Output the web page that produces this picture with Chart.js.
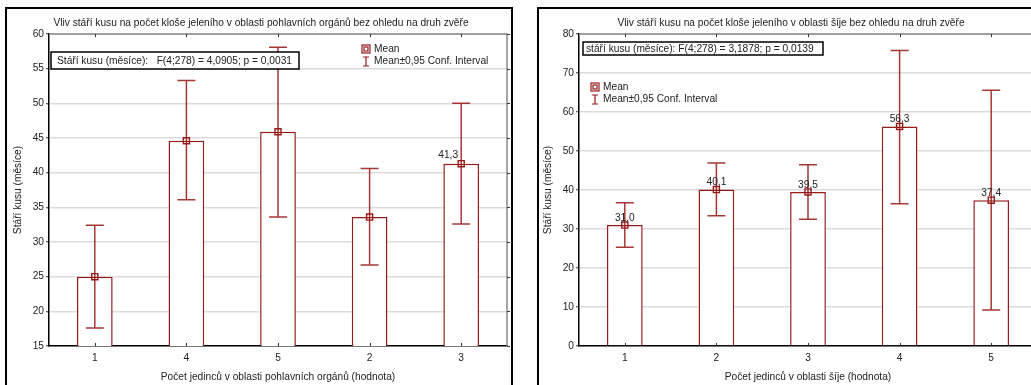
<!DOCTYPE html>
<html>
<head>
<meta charset="utf-8">
<script src="https://cdn.jsdelivr.net/npm/chart.js@4/dist/chart.umd.min.js"></script>
<style>
  html, body { margin: 0; padding: 0; background: #fff; overflow: hidden; }
  #wrap { position: relative; width: 1031px; height: 385px; overflow: hidden; }
  .cv { position: absolute; top: 0; }
  .panel { position: absolute; top: 7px; height: 400px; border: 2px solid #000; pointer-events: none; }
</style>
</head>
<body>
<div id="wrap">
  <div class="cv" style="left:0;width:515px;height:385px"><canvas id="leftChart"></canvas></div>
  <div class="cv" style="left:530px;width:515px;height:385px"><canvas id="rightChart"></canvas></div>
  <div class="panel" style="left:5px;width:504px"></div>
  <div class="panel" style="left:537px;width:600px"></div>
</div>
<script>
// left chart - pohlavni organy
var leftCats = ['1', '4', '5', '2', '3'];
var leftMeans = [25.0, 44.6, 45.9, 33.6, 41.3];
var leftLow = [17.6, 36.1, 33.6, 26.7, 32.6];
var leftHigh = [32.4, 53.3, 58.1, 40.6, 50.0];
var leftShowLabel = [false, false, false, false, true];
var leftTicks = [15, 60, 5];

// right chart - sije
var rightCats = ['1', '2', '3', '4', '5'];
var rightMeans = [31.0, 40.1, 39.5, 56.3, 37.4];
var rightLow = [25.3, 33.4, 32.5, 36.5, 9.2];
var rightHigh = [36.7, 46.9, 46.5, 75.8, 65.6];
var rightShowLabel = [true, true, true, true, true];
var rightTicks = [0, 80, 10];

var red = '#951b1b';
var txt = '#222';
var font = "'Liberation Sans', Arial, sans-serif";
var fs = 10.2;

Chart.defaults.font.family = font;
Chart.defaults.font.size = fs;
Chart.defaults.color = txt;

var extras = {
    id: 'extras',
    afterDatasetDraw: function (chart, args, opts) {
        if (args.index !== 0) return;
        var ctx = chart.ctx, x = chart.scales.x, y = chart.scales.y;
        ctx.save();
        ctx.strokeStyle = 'rgba(150,20,20,0.85)';
        ctx.lineWidth = 1.5;
        for (var i = 0; i < opts.low.length; i++) {
            var px = x.getPixelForValue(i);
            var y1 = y.getPixelForValue(opts.low[i]);
            var y2 = y.getPixelForValue(opts.high[i]);
            ctx.beginPath();
            ctx.moveTo(px, y1); ctx.lineTo(px, y2);
            ctx.moveTo(px - 9, y1); ctx.lineTo(px + 9, y1);
            ctx.moveTo(px - 9, y2); ctx.lineTo(px + 9, y2);
            ctx.stroke();
        }
        ctx.restore();
    },
    afterDraw: function (chart, args, opts) {
        var ctx = chart.ctx, a = chart.chartArea, x = chart.scales.x, y = chart.scales.y;
        ctx.save();
        // frame top / right
        ctx.strokeStyle = '#8a8a8a';
        ctx.lineWidth = 1.5;
        ctx.beginPath();
        ctx.moveTo(a.left, a.top); ctx.lineTo(a.right, a.top); ctx.lineTo(a.right, a.bottom);
        ctx.stroke();
        ctx.strokeStyle = '#333';
        ctx.lineWidth = 1;
        ctx.beginPath();
        for (var i = 0; i < opts.means.length; i++) {
            var px = Math.round(x.getPixelForValue(i)) + 0.5;
            ctx.moveTo(px, a.top); ctx.lineTo(px, a.top + 3);
            ctx.moveTo(px, a.bottom); ctx.lineTo(px, a.bottom - 3);
        }
        y.ticks.forEach(function (t) {
            var py = Math.round(y.getPixelForValue(t.value)) + 0.5;
            ctx.moveTo(a.right, py); ctx.lineTo(a.right + 3, py);
        });
        ctx.stroke();

        // title
        ctx.fillStyle = txt;
        ctx.font = fs + 'px ' + font;
        ctx.textAlign = 'center';
        ctx.textBaseline = 'middle';
        ctx.fillText(opts.title, 261, 23);

        // value labels
        for (var j = 0; j < opts.means.length; j++) {
            if (!opts.showLabel[j]) continue;
            ctx.fillText(opts.means[j].toFixed(1).replace('.', ','),
                x.getPixelForValue(j) + opts.labelDx, y.getPixelForValue(opts.means[j]) + opts.labelDy);
        }

        // stat box
        var b = opts.box;
        ctx.fillStyle = '#fff';
        ctx.fillRect(b[0], b[1], b[2], b[3]);
        ctx.strokeStyle = '#000';
        ctx.lineWidth = 1.5;
        ctx.strokeRect(b[0], b[1], b[2], b[3]);
        ctx.fillStyle = txt;
        ctx.textAlign = 'left';
        ctx.fillText(opts.boxText, b[0] + opts.boxPad, b[1] + b[3] / 2 + 0.5);

        // legend
        var lg = opts.legend;
        ctx.strokeStyle = red;
        ctx.lineWidth = 1.2;
        ctx.strokeRect(lg[0] - 4, lg[1] - 4, 8, 8);
        ctx.strokeRect(lg[0] - 2, lg[1] - 2, 4, 4);
        ctx.beginPath();
        ctx.moveTo(lg[0], lg[1] + 8); ctx.lineTo(lg[0], lg[1] + 17);
        ctx.moveTo(lg[0] - 3, lg[1] + 8); ctx.lineTo(lg[0] + 3, lg[1] + 8);
        ctx.moveTo(lg[0] - 3, lg[1] + 17); ctx.lineTo(lg[0] + 3, lg[1] + 17);
        ctx.stroke();
        ctx.fillStyle = txt;
        ctx.fillText('Mean', lg[0] + 8, lg[1]);
        ctx.fillText('Mean\u00b10,95 Conf. Interval', lg[0] + 8, lg[1] + 12.5);
        ctx.restore();
    }
};

function makeChart(id, cats, means, low, high, ticks, xTitle, extraOpts) {
    var ctx = document.getElementById(id).getContext('2d');
    extraOpts.means = means;
    extraOpts.low = low;
    extraOpts.high = high;
    return new Chart(ctx, {
        type: 'bar',
        data: {
            labels: cats,
            datasets: [{
                data: means,
                backgroundColor: '#fff',
                borderColor: red,
                borderWidth: 1.5,
                barPercentage: 0.39,
                categoryPercentage: 1,
                order: 2
            }, {
                type: 'line',
                data: means,
                showLine: false,
                pointStyle: 'rect',
                pointRadius: 4.3,
                pointBorderWidth: 1.4,
                pointBorderColor: red,
                pointBackgroundColor: 'rgba(0,0,0,0)',
                order: 1
            }]
        },
        options: {
            responsive: true,
            maintainAspectRatio: false,
            animation: false,
            layout: { padding: { top: 34, right: 8, left: 0, bottom: 0 } },
            plugins: {
                legend: { display: false },
                tooltip: { enabled: false },
                extras: extraOpts
            },
            scales: {
                x: {
                    grid: { display: false, drawTicks: false },
                    border: { display: true, color: '#000', width: 1.5 },
                    ticks: { padding: 6, color: txt },
                    title: { display: true, text: xTitle, color: txt, padding: { top: 0, bottom: 2 } },
                    afterFit: function (s) { s.height = 39; }
                },
                y: {
                    min: ticks[0],
                    max: ticks[1],
                    ticks: { stepSize: ticks[2], padding: 2, color: txt },
                    grid: { color: '#dcdcdc', lineWidth: 1.5, tickLength: 3, tickColor: '#333', tickWidth: 1 },
                    border: { display: true, color: '#000', width: 1.5 },
                    title: { display: true, text: 'Stáří kusu (měsíce)', color: txt, padding: { top: 12, bottom: 0 } },
                    afterFit: function (s) { s.width = 49; }
                }
            }
        },
        plugins: [extras]
    });
}

makeChart('leftChart', leftCats, leftMeans, leftLow, leftHigh, leftTicks,
    'Počet jedinců v oblasti pohlavních orgánů (hodnota)', {
        title: 'Vliv stáří kusu na počet kloše jeleního v oblasti pohlavních orgánů bez ohledu na druh zvěře',
        showLabel: leftShowLabel,
        labelDx: -13, labelDy: -8,
        box: [51, 52, 248, 17],
        boxPad: 6,
        boxText: 'Stáří kusu (měsíce):   F(4;278) = 4,0905; p = 0,0031',
        legend: [366, 49]
    });

makeChart('rightChart', rightCats, rightMeans, rightLow, rightHigh, rightTicks,
    'Počet jedinců v oblasti šíje (hodnota)', {
        title: 'Vliv stáří kusu na počet kloše jeleního v oblasti šíje bez ohledu na druh zvěře',
        showLabel: rightShowLabel,
        labelDx: 0, labelDy: -7,
        box: [53, 42, 240, 13],
        boxPad: 3,
        boxText: 'stáří kusu (měsíce): F(4;278) = 3,1878; p = 0,0139',
        legend: [65, 87]
    });
</script>
</body>
</html>
